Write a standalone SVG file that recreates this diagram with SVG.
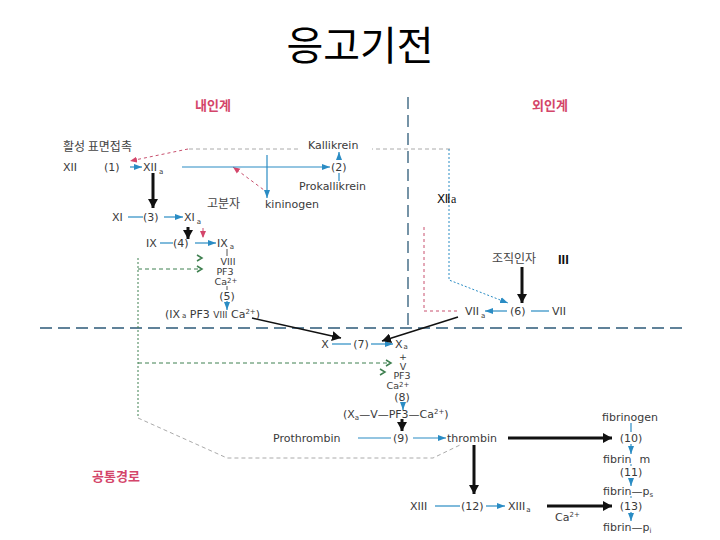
<svg xmlns="http://www.w3.org/2000/svg" width="720" height="540" viewBox="0 0 720 540">
<defs>
<style>
.t{font-family:"DejaVu Sans","Noto Sans CJK KR",sans-serif;font-size:11px;fill:#3a3a3a}
.s{font-family:"DejaVu Sans","Noto Sans CJK KR",sans-serif;font-size:9.5px;fill:#3a3a3a}
.k{font-family:"Noto Sans CJK KR",sans-serif;font-size:12px;fill:#444}
.r{font-family:"Noto Sans CJK KR",sans-serif;font-size:13px;font-weight:bold;fill:#d4456a}
.sub{font-size:7px}
.bl{stroke:#2a8cc4;stroke-width:1.2;fill:none}
.bk{stroke:#111;stroke-width:3;fill:none}
.bt{stroke:#111;stroke-width:1.5;fill:none}
.sep{stroke:#2d5a78;stroke-width:1.3;stroke-dasharray:12 6;fill:none}
.gd{stroke:#aaa;stroke-width:1;stroke-dasharray:4 3;fill:none}
.rd{stroke:#c8506e;stroke-width:1;stroke-dasharray:3 3;fill:none}
.gn{stroke:#3f8050;stroke-width:1;stroke-dasharray:4 3;fill:none}
.gv{stroke:#3f8050;stroke-width:1;stroke-dasharray:2 2;fill:none}
.bd{stroke:#2a8cc4;stroke-width:1;stroke-dasharray:2 2;fill:none}
</style>
<marker id="ab" markerUnits="userSpaceOnUse" markerWidth="9" markerHeight="7" refX="8" refY="3.5" orient="auto"><path d="M0,0.5 L8,3.5 L0,6.5 z" fill="#2a8cc4"/></marker>
<marker id="ak" markerUnits="userSpaceOnUse" markerWidth="10" markerHeight="10" refX="9" refY="5" orient="auto"><path d="M0,0 L9,5 L0,10 z" fill="#111"/></marker>
<marker id="ar" markerUnits="userSpaceOnUse" markerWidth="8" markerHeight="7" refX="7" refY="3.5" orient="auto"><path d="M0,0.5 L7,3.5 L0,6.5 z" fill="#d4456a"/></marker>
<marker id="ag" markerUnits="userSpaceOnUse" markerWidth="8" markerHeight="8" refX="6" refY="4" orient="auto"><path d="M1,1 L6,4 L1,7" fill="none" stroke="#3f8050" stroke-width="1.5"/></marker>
</defs>
<rect width="720" height="540" fill="#fff"/>
<g id="title"><text x="360" y="60" text-anchor="middle" font-family="Noto Sans CJK KR, sans-serif" font-size="40" fill="#000">응고기전</text></g>

<g id="connectors">
<line class="sep" x1="408" y1="97" x2="408" y2="330"/>
<line class="sep" x1="40" y1="328" x2="682" y2="328"/>
<line class="gd" x1="450" y1="149" x2="372" y2="149"/>
<line class="gd" x1="298" y1="149" x2="188" y2="149"/>
<line class="rd" x1="188" y1="149" x2="130" y2="161" marker-end="url(#ar)"/>
<line class="rd" x1="268" y1="193" x2="233" y2="167" marker-end="url(#ar)"/>
<line class="rd" x1="203" y1="228" x2="203" y2="238" marker-end="url(#ar)"/>
<polyline class="rd" points="424,227 424,311 460,311"/>
<polyline class="bd" points="449,149 449,280 508,303" marker-end="url(#ab)"/>
<line class="bl" x1="130" y1="167" x2="142" y2="167" marker-end="url(#ab)"/>
<line class="bl" x1="182" y1="167" x2="330" y2="167" marker-end="url(#ab)"/>
<line class="bl" x1="339" y1="160" x2="339" y2="152" marker-end="url(#ab)"/>
<line class="bl" x1="339" y1="181" x2="339" y2="173"/>
<line class="bl" x1="267" y1="155" x2="267" y2="198" marker-end="url(#ab)"/>
<line class="bl" x1="128" y1="217" x2="143" y2="217"/>
<line class="bl" x1="164" y1="217" x2="183" y2="217" marker-end="url(#ab)"/>
<line class="bl" x1="160" y1="243" x2="173" y2="243"/>
<line class="bl" x1="195" y1="243" x2="216" y2="243" marker-end="url(#ab)"/>
<line stroke="#555" stroke-width="1" x1="227" y1="249" x2="227" y2="256"/>
<line stroke="#555" stroke-width="1" x1="227" y1="286" x2="227" y2="290"/>
<line class="bl" x1="227" y1="301" x2="227" y2="310" marker-end="url(#ab)"/>
<line class="bl" x1="507" y1="311" x2="485" y2="311" marker-end="url(#ab)"/>
<line class="bl" x1="531" y1="311" x2="549" y2="311"/>
<line class="bl" x1="332" y1="344" x2="351" y2="344"/>
<line class="bl" x1="371" y1="344" x2="393" y2="344" marker-end="url(#ab)"/>
<line class="bl" x1="403" y1="402" x2="403" y2="410" marker-end="url(#ab)"/>
<line class="bl" x1="358" y1="438" x2="391" y2="438"/>
<line class="bl" x1="413" y1="438" x2="446" y2="438" marker-end="url(#ab)"/>
<line class="bl" x1="631" y1="423" x2="631" y2="432"/>
<line class="bl" x1="631" y1="444" x2="631" y2="454" marker-end="url(#ab)"/>
<line class="bd" x1="631" y1="464" x2="631" y2="468"/>
<line class="bl" x1="631" y1="478" x2="631" y2="486" marker-end="url(#ab)"/>
<line class="bd" x1="631" y1="496" x2="631" y2="500"/>
<line class="bl" x1="631" y1="512" x2="631" y2="521" marker-end="url(#ab)"/>
<line class="bl" x1="435" y1="506" x2="460" y2="506"/>
<line class="bl" x1="486" y1="506" x2="505" y2="506" marker-end="url(#ab)"/>
<line class="bk" x1="153" y1="173" x2="153" y2="208" marker-end="url(#ak)"/>
<line class="bk" x1="188" y1="227" x2="188" y2="239" marker-end="url(#ak)"/>
<line class="bk" x1="522" y1="267" x2="522" y2="303" marker-end="url(#ak)"/>
<line class="bk" x1="402" y1="419" x2="402" y2="431" marker-end="url(#ak)"/>
<line class="bk" x1="508" y1="438" x2="612" y2="438" marker-end="url(#ak)"/>
<line class="bk" x1="474" y1="445" x2="474" y2="494" marker-end="url(#ak)"/>
<line class="bk" stroke-width="2.5" x1="547" y1="506" x2="612" y2="506" marker-end="url(#ak)"/>
<line class="bt" x1="252" y1="318" x2="341" y2="338" marker-end="url(#ak)"/>
<line class="bt" x1="458" y1="317" x2="382" y2="341" marker-end="url(#ak)"/>
<line class="gv" x1="138" y1="258" x2="138" y2="418"/>
<line class="gn" x1="138" y1="269" x2="202" y2="269" marker-end="url(#ag)"/>
<path d="M197,255 L202,258 L197,261" fill="none" stroke="#3f8050" stroke-width="1.5"/>
<line class="gn" x1="138" y1="363" x2="391" y2="363" marker-end="url(#ag)"/>
<path d="M380,369 L385,372 L380,375" fill="none" stroke="#3f8050" stroke-width="1.5"/>
<polyline class="gd" points="138,418 227,458 433,458 460,445"/>
</g>

<g id="headers">
<text class="r" x="213" y="110" text-anchor="middle">내인계</text>
<text class="r" x="550" y="110" text-anchor="middle">외인계</text>
<text class="r" x="92" y="481">공통경로</text>
</g>

<g id="intrinsic">
<text class="k" x="63" y="151">활성 표면접촉</text>
<text class="t" x="63" y="171">XII</text>
<text class="t" x="104" y="171">(1)</text>
<text class="t" x="143" y="171">XII<tspan class="sub" dx="2" dy="3">a</tspan></text>
<text class="t" x="308" y="149">Kallikrein</text>
<text class="t" x="331" y="171">(2)</text>
<text class="t" x="299" y="190">Prokallikrein</text>
<text class="k" x="207" y="208">고분자</text>
<text class="t" x="265" y="208">kininogen</text>
<text class="t" x="112" y="221">XI</text>
<text class="t" x="143" y="221">(3)</text>
<text class="t" x="184" y="221">XI<tspan class="sub" dx="2" dy="3">a</tspan></text>
<text class="t" x="146" y="247">IX</text>
<text class="t" x="173" y="247">(4)</text>
<text class="t" x="217" y="247">IX<tspan class="sub" dx="2" dy="2">a</tspan></text>
<text class="s" x="228" y="265" text-anchor="middle" font-size="9">VIII</text>
<text class="s" x="225" y="275" text-anchor="middle">PF3</text>
<text class="s" x="226" y="285" text-anchor="middle">Ca<tspan class="sub" font-size="6" dy="-2">2+</tspan></text>
<text class="t" x="227" y="300" text-anchor="middle">(5)</text>
<text class="t" x="165" y="318">(IX<tspan class="sub" dx="2">a</tspan> PF3 <tspan font-size="9">VIII</tspan> Ca<tspan class="sub" dy="-4">2+</tspan><tspan dy="4">)</tspan></text>
</g>

<g id="extrinsic">
<text x="437" y="203" font-family="Liberation Serif, serif" font-size="12" fill="#111">Ⅻa</text>
<text class="k" x="492" y="263">조직인자</text>
<text x="558" y="264" font-family="Liberation Sans, sans-serif" font-size="13" font-weight="bold" fill="#111">III</text>
<text class="t" x="465" y="315">VII<tspan class="sub" dx="2" dy="3">a</tspan></text>
<text class="t" x="510" y="315">(6)</text>
<text class="t" x="552" y="315">VII</text>
</g>

<g id="common">
<text class="t" x="325" y="348" text-anchor="middle">X</text>
<text class="t" x="361" y="348" text-anchor="middle">(7)</text>
<text class="t" x="395" y="348">X<tspan class="sub" dx="1" dy="1">a</tspan></text>
<text class="s" x="403" y="359.5" text-anchor="middle" font-size="8">+</text>
<text class="s" x="403" y="369.5" text-anchor="middle" font-size="8">V</text>
<text class="s" x="402" y="379" text-anchor="middle" font-size="8.5">PF3</text>
<text class="s" x="398" y="388.5" text-anchor="middle" font-size="8.5">Ca<tspan class="sub" font-size="5.5" dy="-2">2+</tspan></text>
<text class="t" x="402" y="401" text-anchor="middle">(8)</text>
<text class="t" x="343" y="418">(X<tspan class="sub" dy="2">a</tspan><tspan dy="-2">—V—PF3—Ca</tspan><tspan class="sub" dy="-4">2+</tspan><tspan dy="4">)</tspan></text>
<text class="t" x="273" y="442">Prothrombin</text>
<text class="t" x="393" y="442">(9)</text>
<text class="t" x="447" y="442">thrombin</text>
<text class="t" x="630" y="421" text-anchor="middle">fibrinogen</text>
<text class="t" x="631" y="442" text-anchor="middle">(10)</text>
<text class="t" x="603" y="463">fibrin<tspan dx="8">m</tspan></text>
<text class="t" x="631" y="476" text-anchor="middle">(11)</text>
<text class="t" x="603" y="495">fibrin—p<tspan class="sub" dy="2">s</tspan></text>
<text class="t" x="631" y="510" text-anchor="middle">(13)</text>
<text class="t" x="603" y="531">fibrin—p<tspan class="sub" dy="2">i</tspan></text>
<text class="t" x="410" y="510">XIII</text>
<text class="t" x="461" y="510">(12)</text>
<text class="t" x="508" y="510">XIII<tspan class="sub" dx="1" dy="2">a</tspan></text>
<text class="t" x="555" y="521">Ca<tspan class="sub" dy="-4">2+</tspan></text>
</g>
</svg>
